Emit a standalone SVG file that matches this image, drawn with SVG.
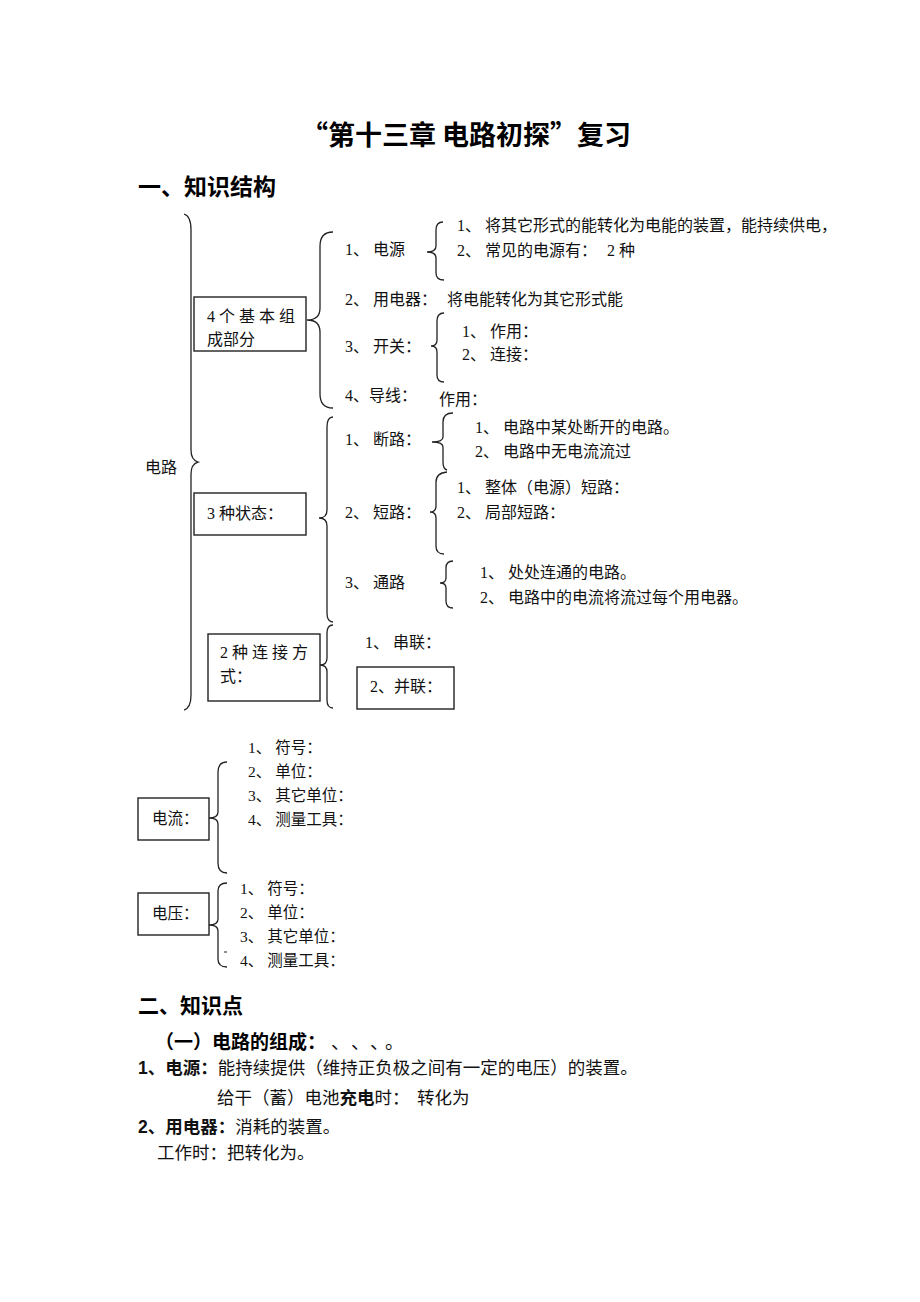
<svg xmlns="http://www.w3.org/2000/svg" width="920" height="1302" viewBox="0 0 920 1302" xml:space="preserve">
<style>
.t{font-family:"Liberation Serif","Noto Sans CJK SC",serif;font-size:16px;fill:#111}
.s{font-size:15.5px}
.h{font-family:"Liberation Sans","Noto Sans CJK SC",sans-serif;font-weight:bold;fill:#000}
.b{font-family:"Liberation Serif","Noto Sans CJK SC",serif;font-size:17.5px;fill:#111}
.bb{font-family:"Liberation Sans","Noto Sans CJK SC",sans-serif;font-weight:bold}
.box{fill:none;stroke:#222;stroke-width:1.4}
.br{fill:none;stroke:#222;stroke-width:1.3}
</style>
<rect width="920" height="1302" fill="#fff"/>
<g id="title">
<text x="466" y="145" style="font-family:'Noto Sans CJK SC','Liberation Sans',sans-serif;font-weight:bold;font-size:27px" text-anchor="middle">“第十三章 电路初探”复习</text>
<text class="h" x="138" y="195" font-size="23">一、知识结构</text>
</g>
<g id="connectors">
<path class="br" d="M184 214 Q191 216 191 230 L191 450 Q191 460 198 462 Q191 464 191 474 L191 695 Q191 708 184 710"/>
<path class="br" d="M333 232 Q320 232 320 246 L320 308 Q320 320 307 320 Q320 320 320 332 L320 394 Q320 408 333 408"/>
<path class="br" d="M443 222 Q436 222 436 230 L436 246 Q436 252 427 252 Q436 252 436 258 L436 273 Q436 280 444 280"/>
<path class="br" d="M444 313 Q437 313 437 321 L437 340 Q437 346 431 346 Q437 346 437 352 L437 375 Q437 382 444 382"/>
<path class="br" d="M333 417 Q327 417 327 427 L327 510 Q327 518 319 518 Q327 518 327 526 L327 613 Q327 622 333 622"/>
<path class="br" d="M333 625 Q327 625 327 633 L327 658 Q327 665 320 665 Q327 665 327 672 L327 700 Q327 708 333 708"/>
<path class="br" d="M453 413 Q443 413 443 422 L443 437 Q443 442 432 442 Q443 442 443 447 L443 462 Q443 469 447 470"/>
<path class="br" d="M447 472 Q436 473 436 482 L436 506 Q436 512 430 512 Q436 512 436 518 L436 546 Q436 554 444 554"/>
<path class="br" d="M453 561 Q446 561 446 568 L446 578 Q446 583 440 583 Q446 583 446 588 L446 601 Q446 608 453 608"/>
<path class="br" d="M227 762 Q218 762 218 772 L218 812 Q218 818 209 818 Q218 818 218 824 L218 863 Q218 873 227 873"/>
<path class="br" d="M227 883 Q218 883 218 891 L218 919 Q218 925 209 925 Q218 925 218 931 L218 959 Q218 967 227 967"/>
<line x1="224" y1="952" x2="227" y2="952" stroke="#444" stroke-width="1.2"/>
</g>
<g id="node-dianlu"><text class="t" x="145" y="473">电路</text></g>
<g id="node-four">
<rect class="box" x="194" y="297" width="112" height="54"/>
<text class="t" x="207" y="322">4 个 基 本 组</text>
<text class="t" x="207" y="345">成部分</text>
</g>
<g id="node-dianyuan">
<text class="t" x="345" y="255">1、 电源</text>
<text class="t" x="457" y="231">1、 将其它形式的能转化为电能的装置，能持续供电，</text>
<text class="t" x="457" y="256">2、 常见的电源有：<tspan x="607">2 种</tspan></text>
</g>
<g id="node-yongdianqi">
<text class="t" x="345" y="305">2、 用电器：</text>
<text class="t" x="447" y="305">将电能转化为其它形式能</text>
</g>
<g id="node-kaiguan">
<text class="t" x="345" y="352">3、 开关：</text>
<text class="t" x="462" y="337">1、 作用：</text>
<text class="t" x="462" y="360">2、 连接：</text>
</g>
<g id="node-daoxian">
<text class="t" x="345" y="401">4、导线：</text>
<text class="t" x="439" y="405">作用：</text>
</g>
<g id="node-three">
<rect class="box" x="194" y="493" width="112" height="42"/>
<text class="t" x="207" y="519">3 种状态：</text>
</g>
<g id="node-duanlu">
<text class="t" x="345" y="445">1、 断路：</text>
<text class="t" x="475" y="433">1、 电路中某处断开的电路。</text>
<text class="t" x="475" y="457">2、 电路中无电流流过</text>
</g>
<g id="node-duanlu2">
<text class="t" x="345" y="518">2、 短路：</text>
<text class="t" x="457" y="493">1、 整体（电源）短路：</text>
<text class="t" x="457" y="518">2、 局部短路：</text>
</g>
<g id="node-tonglu">
<text class="t" x="345" y="588">3、 通路</text>
<text class="t" x="480" y="578">1、 处处连通的电路。</text>
<text class="t" x="480" y="603">2、 电路中的电流将流过每个用电器。</text>
</g>
<g id="node-two">
<rect class="box" x="208" y="634" width="112" height="67"/>
<text class="t" x="220" y="658">2 种 连 接 方</text>
<text class="t" x="220" y="682">式：</text>
</g>
<g id="node-chuanlian"><text class="t" x="365" y="648">1、 串联：</text></g>
<g id="node-binglian">
<rect class="box" x="357" y="667" width="97" height="42"/>
<text class="t" x="370" y="692">2、并联：</text>
</g>
<g id="node-dianliu">
<rect class="box" x="138" y="798" width="71" height="42"/>
<text class="t s" x="152" y="824">电流：</text>
<text class="t s" x="248" y="753">1、 符号：</text>
<text class="t s" x="248" y="777">2、 单位：</text>
<text class="t s" x="248" y="801">3、 其它单位：</text>
<text class="t s" x="248" y="825">4、 测量工具：</text>
</g>
<g id="node-dianya">
<rect class="box" x="138" y="893" width="71" height="42"/>
<text class="t s" x="152" y="919">电压：</text>
<text class="t s" x="240" y="894">1、 符号：</text>
<text class="t s" x="240" y="918">2、 单位：</text>
<text class="t s" x="240" y="942">3、 其它单位：</text>
<text class="t s" x="240" y="966">4、 测量工具：</text>
</g>
<g id="section2">
<text class="h" x="138" y="1013" font-size="21">二、知识点</text>
<text x="155" y="1049" style="font-size:19px"><tspan class="bb">（一）电路的组成：</tspan></text>
<text class="t" x="331 351 370 385" y="1049" style="font-size:19px">、、、。</text>
<text class="b" x="138" y="1074"><tspan class="bb">1、电源：</tspan>能持续提供（维持正负极之间有一定的电压）的装置。</text>
<text class="b" x="217" y="1104">给干（蓄）电池<tspan class="bb">充电</tspan>时：<tspan x="417">转化为</tspan></text>
<text class="b" x="138" y="1133"><tspan class="bb">2、用电器：</tspan>消耗的装置。</text>
<text class="b" x="157" y="1159">工作时：把转化为。</text>
</g>
</svg>
